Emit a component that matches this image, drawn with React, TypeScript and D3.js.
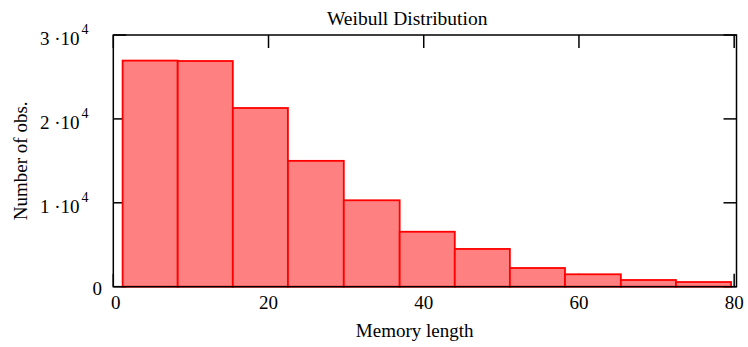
import React from "react";
import * as d3 from "d3";

// Histogram bins of observed memory lengths
const binEdges = [1.2, 8.3, 15.4, 22.5, 29.7, 36.9, 44.0, 51.1, 58.2, 65.4, 72.5, 79.6];
const counts = [26950, 26900, 21300, 15000, 10300, 6550, 4500, 2230, 1480, 800, 560];

const xTicks = [0, 20, 40, 60, 80];
const yTicks = [0, 10000, 20000, 30000];
const yMantissa = ["0", "1", "2", "3"];

const titleText = "Weibull Distribution";
const xLabel = "Memory length";
const yLabel = "Number of obs.";

const W = 748;
const H = 347;
const plot = { left: 113.3, right: 736.5, top: 35, bottom: 286.7 };
const FONT = "'Liberation Serif', 'Times New Roman', serif";

export default function App() {
  const x = d3.scaleLinear().domain([0, 80.3]).range([plot.left, plot.right]);
  const y = d3.scaleLinear().domain([0, 30000]).range([plot.bottom, plot.top]);
  const tickLen = 13;

  const bars = counts.map((c, i) => ({ x0: binEdges[i], x1: binEdges[i + 1], c }));

  return (
    <svg
      width={W}
      height={H}
      style={{ position: "absolute", left: 0, top: 0, background: "#fff" }}
      fontFamily={FONT}
    >
      {/* tick marks, mirrored on all four sides */}
      <g stroke="#000" strokeWidth={1.5}>
        {xTicks.map((t) => (
          <g key={"xt" + t}>
            <line x1={x(t)} x2={x(t)} y1={plot.bottom} y2={plot.bottom - tickLen} />
            <line x1={x(t)} x2={x(t)} y1={plot.top} y2={plot.top + tickLen} />
          </g>
        ))}
        {yTicks.map((t) => (
          <g key={"yt" + t}>
            <line x1={plot.left} x2={plot.left + tickLen} y1={y(t)} y2={y(t)} />
            <line x1={plot.right} x2={plot.right - tickLen} y1={y(t)} y2={y(t)} />
          </g>
        ))}
      </g>

      {/* histogram bars */}
      <g>
        {bars.map((b, i) => (
          <rect
            key={i}
            x={x(b.x0)}
            y={y(b.c)}
            width={x(b.x1) - x(b.x0)}
            height={y(0) - y(b.c)}
            fill="#ff8080"
            stroke="#ff0000"
            strokeWidth={1.8}
          />
        ))}
      </g>

      {/* frame */}
      <rect
        x={plot.left}
        y={plot.top}
        width={plot.right - plot.left}
        height={plot.bottom - plot.top}
        fill="none"
        stroke="#000"
        strokeWidth={1.5}
      />

      {/* x tick labels */}
      <g fontSize={19} fill="#000" textAnchor="middle">
        {xTicks.map((t) => (
          <text key={"xl" + t} x={x(t) + (t === 0 ? 2.5 : 0)} y={309}>
            {t}
          </text>
        ))}
      </g>

      {/* y tick labels */}
      <g fontSize={19} fill="#000">
        {yTicks.map((t, i) =>
          t === 0 ? (
            <text key={"yl" + t} x={102} y={y(t) + 8.5} textAnchor="end">
              0
            </text>
          ) : (
            <text key={"yl" + t} x={40} y={y(t) + 10}>
              {yMantissa[i] + " \u00b710"}
              <tspan fontSize={14} dx={2} dy={-11}>
                4
              </tspan>
            </text>
          )
        )}
      </g>

      {/* title and axis labels */}
      <text x={327} y={25} fontSize={19.5} fill="#000">
        {titleText}
      </text>
      <text x={414.7} y={336.5} fontSize={19} fill="#000" textAnchor="middle">
        {xLabel}
      </text>
      <text
        transform={`translate(27, ${(plot.top + plot.bottom) / 2}) rotate(-90)`}
        fontSize={19}
        fill="#000"
        textAnchor="middle"
      >
        {yLabel}
      </text>
    </svg>
  );
}
